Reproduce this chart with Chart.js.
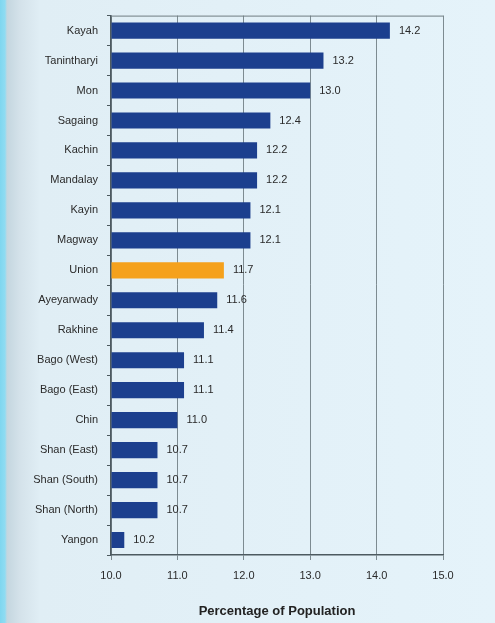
<!DOCTYPE html>
<html>
<head>
<meta charset="utf-8">
<script src="https://cdn.jsdelivr.net/npm/chart.js@4/dist/chart.umd.min.js"></script>
<style>
  html, body { margin: 0; padding: 0; }
  body {
    width: 495px; height: 623px; overflow: hidden;
    background: linear-gradient(to right, #7fd6ef 0px, #8fdcf2 5px, #c4d6df 7px, #d4e2ea 20px, #e0eef5 40px, #e5f3fa 100%);
  }
  #wrap { position: absolute; left: 0; top: 0; width: 495px; height: 623px; }
</style>
</head>
<body>
<div id="wrap"><canvas id="c"></canvas></div>
<script>
const categories = ["Kayah","Tanintharyi","Mon","Sagaing","Kachin","Mandalay","Kayin","Magway","Union","Ayeyarwady","Rakhine","Bago (West)","Bago (East)","Chin","Shan (East)","Shan (South)","Shan (North)","Yangon"];
const values = [14.2,13.2,13.0,12.4,12.2,12.2,12.1,12.1,11.7,11.6,11.4,11.1,11.1,11.0,10.7,10.7,10.7,10.2];
const xTicks = [10,11,12,13,14,15];
const xTitle = "Percentage of Population";

const FONT = "'Liberation Sans Narrow', 'Liberation Sans', Arial, sans-serif";
const barColors = categories.map(c => c === "Union" ? "#f5a11c" : "#1c3f8e");

const valueLabels = {
  id: 'valueLabels',
  afterDatasetsDraw(chart) {
    const ctx = chart.ctx;
    const meta = chart.getDatasetMeta(0);
    ctx.save();
    ctx.font = "11px " + FONT;
    ctx.fillStyle = "#2a2a2a";
    ctx.textAlign = "left";
    ctx.textBaseline = "middle";
    meta.data.forEach((bar, i) => {
      ctx.fillText(values[i].toFixed(1), bar.x + 9, bar.y);
    });
    ctx.restore();
  }
};
const frame = {
  id: 'frame',
  afterDraw(chart) {
    const a = chart.chartArea, ctx = chart.ctx;
    ctx.save();
    ctx.strokeStyle = "#6f7c82";
    ctx.lineWidth = 1;
    ctx.beginPath();
    ctx.moveTo(a.left, a.top + 0.5);
    ctx.lineTo(a.right + 0.5, a.top + 0.5);
    ctx.stroke();
    ctx.restore();
  }
};

new Chart(document.getElementById('c'), {
  type: 'bar',
  data: {
    labels: categories,
    datasets: [{
      data: values,
      backgroundColor: barColors,
      borderWidth: 0,
      barPercentage: 0.54,
      categoryPercentage: 1.0,
      base: 10
    }]
  },
  options: {
    indexAxis: 'y',
    responsive: true,
    maintainAspectRatio: false,
    animation: false,
    layout: { padding: { top: 12, right: 52, bottom: 0, left: 0 } },
    plugins: { legend: { display: false }, tooltip: { enabled: false } },
    scales: {
      x: {
        min: 10, max: 15,
        afterBuildTicks(scale) { scale.ticks = xTicks.map(v => ({ value: v })); },
        afterFit(scale) { scale.height = 68; },
        grid: { color: "#7d8b91", lineWidth: 1, tickLength: 5, drawTicks: true },
        border: { color: "#4d5a60", width: 1.5 },
        ticks: {
          padding: 9,
          color: "#2a2a2a",
          font: { family: FONT, size: 11 },
          callback: v => Number(v).toFixed(1)
        },
        title: {
          display: true, text: xTitle, color: "#222",
          font: { family: FONT, size: 13, weight: 'bold' },
          padding: { top: 0, bottom: 4 }
        }
      },
      y: {
        afterFit(scale) { scale.width = 111; },
        grid: { drawOnChartArea: false, tickLength: 4, color: "#4d5a60", offset: true },
        border: { color: "#4d5a60", width: 1.5 },
        ticks: {
          padding: 9,
          color: "#2a2a2a",
          font: { family: FONT, size: 11 },
          autoSkip: false
        }
      }
    }
  },
  plugins: [valueLabels, frame]
});
</script>
</body>
</html>
